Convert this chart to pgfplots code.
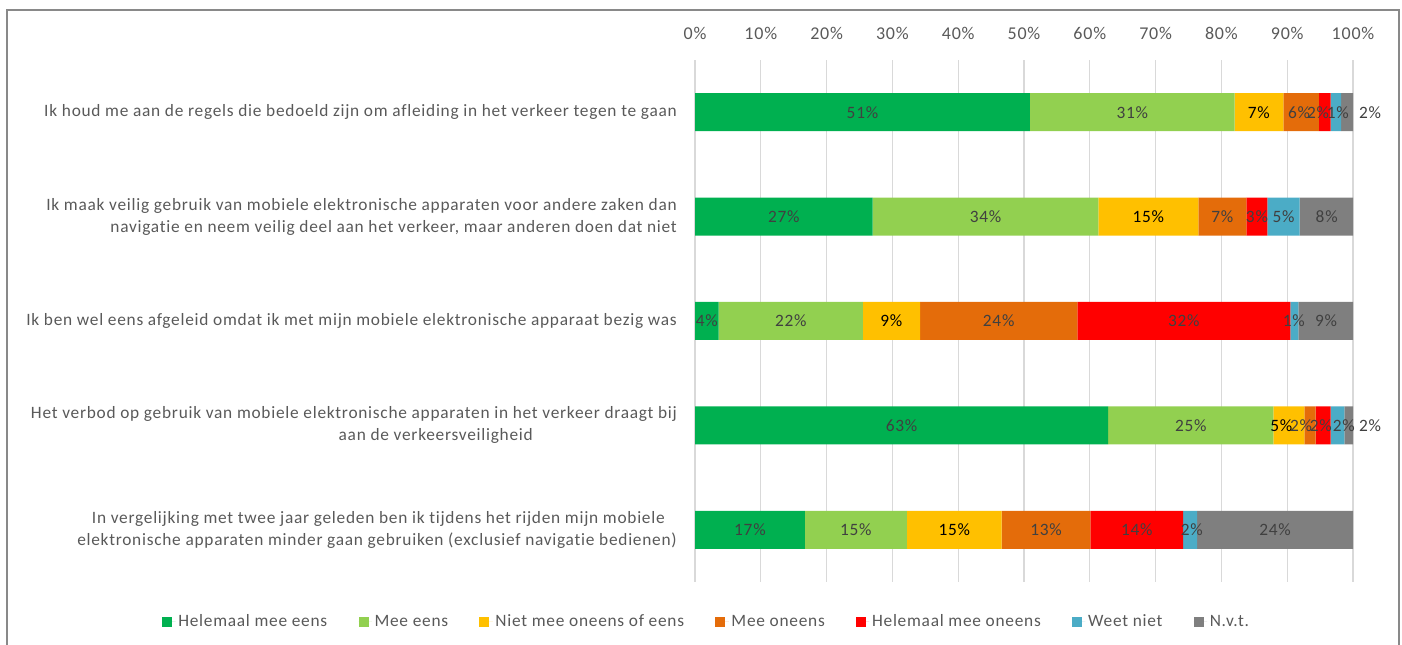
\documentclass[border=0pt]{standalone}
\usepackage{fontspec}
\setmainfont{Carlito}[LetterSpace=4.3, Ligatures={NoCommon}]
\usepackage{pgfplots}
\pgfplotsset{compat=1.18}
\definecolor{cA}{HTML}{00B050}
\definecolor{cB}{HTML}{92D050}
\definecolor{cC}{HTML}{FFC000}
\definecolor{cD}{HTML}{E46C0A}
\definecolor{cE}{HTML}{FF0000}
\definecolor{cF}{HTML}{4BACC6}
\definecolor{cG}{HTML}{7F7F7F}
\definecolor{txt}{HTML}{595959}
\definecolor{lbl}{HTML}{404040}
\definecolor{grd}{HTML}{D9D9D9}
\definecolor{frm}{HTML}{898989}
\newcommand{\cf}{\fontsize{13pt}{16.5pt}\selectfont}
\newcommand{\tf}{\fontsize{13.5pt}{16.5pt}\selectfont}
\pgfplotsset{sqlegend/.style={legend image code/.code={\fill[##1] (0pt,-3.75pt) rectangle (7.5pt,3.75pt); \path (0pt,0pt) -- (10pt,0pt);}}}
\begin{document}
\cf
\begin{tikzpicture}
\useasboundingbox (0,0) rectangle (1051.5pt,483.75pt);
\draw[frm, line width=1.5pt] (5.6pt,-5pt) -- (5.6pt,475.9pt) -- (1048.9pt,475.9pt) -- (1048.9pt,-5pt);
\begin{axis}[
  at={(521.25pt,47.25pt)}, anchor=south west,
  scale only axis, width=493.5pt, height=391.5pt,
  xbar stacked, bar width=28.5pt,
  xmin=0, xmax=100, ymin=-0.5, ymax=4.5,
  axis line style={draw=none},
  major tick length=0pt,
  xtick={0,10,...,100},
  xticklabel pos=upper,
  xticklabel={\pgfmathprintnumber{\tick}\%},
  xmajorgrids, grid style={grd, line width=1pt},
  ytick={0,1,2,3,4},
  yticklabels={
    {\mbox{In vergelijking met twee jaar geleden ben ik tijdens het rijden mijn mobiele\hspace{9pt}}\\elektronische apparaten minder gaan gebruiken (exclusief navigatie bedienen)},
    {Het verbod op gebruik van mobiele elektronische apparaten in het verkeer draagt bij\\\mbox{aan de verkeersveiligheid\hspace{108pt}}},
    {Ik ben wel eens afgeleid omdat ik met mijn mobiele elektronische apparaat bezig was},
    {Ik maak veilig gebruik van mobiele elektronische apparaten voor andere zaken dan\\navigatie en neem veilig deel aan het verkeer, maar anderen doen dat niet},
    {Ik houd me aan de regels die bedoeld zijn om afleiding in het verkeer tegen te gaan}},
  ticklabel style={font=\cf, text=txt},
  xticklabel style={inner sep=0pt, yshift=15pt, font=\tf},
  yticklabel style={align=right, inner sep=0pt, xshift=-13.5pt},
  /pgf/number format/assume math mode=true,
  legend columns=7,
  legend style={draw=none, font=\cf, text=txt, at={(0.0182,-0.0766)}, anchor=center,
    /tikz/every even column/.append style={column sep=21.5pt}},
]
\addplot[fill=cA, draw=none, sqlegend] coordinates {(16.7,0) (62.8,1) (3.6,2) (27.0,3) (50.9,4)};
\addplot[fill=cB, draw=none, sqlegend] coordinates {(15.5,0) (25.1,1) (21.9,2) (34.3,3) (31.1,4)};
\addplot[fill=cC, draw=none, sqlegend] coordinates {(14.4,0) (4.7,1) (8.7,2) (15.2,3) (7.4,4)};
\addplot[fill=cD, draw=none, sqlegend] coordinates {(13.5,0) (1.7,1) (23.9,2) (7.3,3) (5.4,4)};
\addplot[fill=cE, draw=none, sqlegend] coordinates {(14.1,0) (2.3,1) (32.4,2) (3.2,3) (1.8,4)};
\addplot[fill=cF, draw=none, sqlegend] coordinates {(2.1,0) (2.1,1) (1.2,2) (4.9,3) (1.6,4)};
\addplot[fill=cG, draw=none, sqlegend] coordinates {(23.7,0) (1.3,1) (8.3,2) (8.1,3) (1.8,4)};
\legend{Helemaal mee eens, Mee eens, Niet mee oneens of eens, Mee oneens, Helemaal mee oneens, Weet niet, N.v.t.}
\end{axis}
\begin{axis}[
  at={(521.25pt,47.25pt)}, anchor=south west,
  scale only axis, width=493.5pt, height=391.5pt,
  xmin=0, xmax=100, ymin=-0.5, ymax=4.5,
  hide axis, clip=false,
  point meta=explicit symbolic,
]
\addplot[draw=none, mark=none, nodes near coords={\pgfplotspointmeta\%}, every node near coord/.style={anchor=center, inner sep=0pt, font=\cf, text=lbl}] table[meta=l] {
x y l
25.45 4 51
66.45 4 31
91.8 4 6
94.7 4 2
97.7 4 1
102.6 4 2
13.5 3 27
44.15 3 34
80.15 3 7
85.4 3 3
89.45 3 5
96.0 3 8
1.8 2 4
14.55 2 22
46.15 2 24
74.3 2 32
91.0 2 1
95.9 2 9
31.4 1 63
75.35 1 25
92.1 1 2
95.1 1 2
98.6 1 2
102.6 1 2
8.35 0 17
24.45 0 15
53.35 0 13
67.15 0 14
75.5 0 2
88.15 0 24
};
\addplot[draw=none, mark=none, nodes near coords={\pgfplotspointmeta\%}, every node near coord/.style={anchor=center, inner sep=0pt, font=\cf, text=black}] table[meta=l] {
x y l
85.7 4 7
68.9 3 15
29.85 2 9
89.1 1 5
39.4 0 15
};
\end{axis}
\end{tikzpicture}
\end{document}
